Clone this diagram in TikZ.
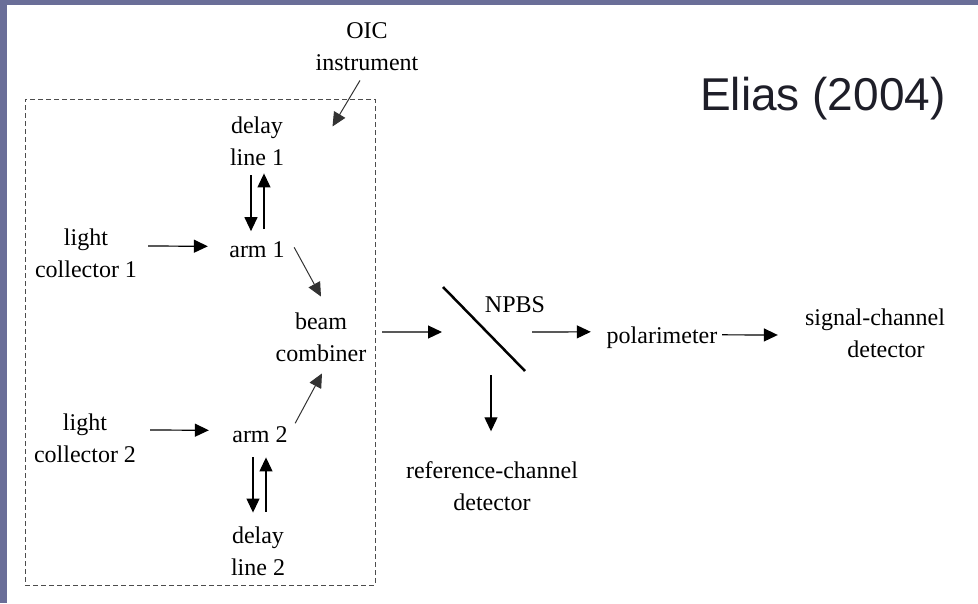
\documentclass[tikz,border=0pt]{standalone}
\usepackage{fontspec}
\setmainfont{Liberation Serif}
\newfontfamily\citefont{Liberation Sans}
\usetikzlibrary{arrows.meta}
\definecolor{framecol}{RGB}{106,110,152}
\definecolor{ink}{RGB}{30,30,40}
\begin{document}
\begin{tikzpicture}[x=1pt,y=-1pt,
  lbl/.style={font=\fontsize{24}{32}\selectfont, align=center, inner sep=0pt, anchor=base},
  arr/.style={-{Triangle[length=14pt,width=13pt]}, line width=1.2pt, black},
  diag/.style={arr, line width=1pt, black!80}]
\fill[framecol] (0,0) rectangle (978,603);
\fill[white] (7,5) rectangle (978,603);
\useasboundingbox (0,0) rectangle (978,603);

\node[draw=black!70, dash pattern=on 5pt off 3pt, line width=1pt,
      minimum width=350pt, minimum height=486pt, inner sep=0pt] (box) at (200,342) {};

\node[lbl] (oic) at (367,70) {OIC\\instrument};
\node[lbl] (delay1) at (257,165) {delay\\line 1};
\node[lbl] (lc1) at (86,277) {light\\collector 1};
\node[lbl] (arm1) at (257,257) {arm 1};
\node[lbl] (bc) at (321,361) {beam\\combiner};
\node[lbl] (lc2) at (85,462) {light\\collector 2};
\node[lbl] (arm2) at (260,442) {arm 2};
\node[lbl] (delay2) at (258,575) {delay\\line 2};
\node[lbl] (npbs) at (515,312) {NPBS};
\node[lbl] (ref) at (492,510) {reference-channel\\detector};
\node[lbl] (pol) at (662,343) {polarimeter};
\node[lbl] (sig) at (875,357) {signal-channel\\\hspace*{22pt}detector};
\node[font=\citefont\fontsize{46}{50}\selectfont, text=ink, anchor=base west, inner sep=0pt] (cite) at (700,110) {Elias (2004)};

\coordinate (m1) at (443,287);
\coordinate (m2) at (525,371);
\coordinate (bs) at (484,329);
\draw[line width=2.5pt] (m1) -- (m2);

\draw[diag] ([xshift=-7pt,yshift=-10pt]oic.south) -- ([xshift=-43pt,yshift=-28pt]box.north east);
\draw[arr] ([xshift=-6pt,yshift=-10pt]delay1.south) -- ([xshift=-6pt,yshift=9.8pt]arm1.north);
\draw[arr] ([xshift=7pt,yshift=11.8pt]arm1.north) -- ([xshift=7pt,yshift=-8pt]delay1.south);
\draw[arr] ([xshift=11pt,yshift=6.8pt]lc1.east) -- ([xshift=-21.3pt,yshift=2.9pt]arm1.west);
\draw[diag] ([xshift=9.3pt,yshift=1.9pt]arm1.east) -- ([yshift=15.6pt]bc.north);
\draw[arr] ([xshift=14pt,yshift=7.8pt]lc2.east) -- ([xshift=-23.3pt,yshift=3.9pt]arm2.west);
\draw[diag] ([xshift=7.3pt,yshift=10.9pt]arm2.east) -- ([xshift=1pt,yshift=-12pt]bc.south);
\draw[arr] ([xshift=-7pt,yshift=-15pt]arm2.south) -- ([xshift=-5pt,yshift=13.6pt]delay2.north);
\draw[arr] ([xshift=8pt,yshift=14.6pt]delay2.north) -- ([xshift=6pt,yshift=-15pt]arm2.south);
\draw[arr] ([xshift=15.7pt,yshift=4.8pt]bc.east) -- ([xshift=-42pt,yshift=-3pt]bs);
\draw[arr] ([xshift=48pt,yshift=-3pt]bs) -- ([xshift=-15.7pt,yshift=5.4pt]pol.west);
\draw[arr] ([xshift=7pt,yshift=-46pt]bs) -- ([xshift=-1pt,yshift=29.6pt]ref.north);
\draw[arr] ([xshift=4.7pt,yshift=2.4pt]pol.east) -- ([xshift=-27pt,yshift=-2.2pt]sig.west);
\end{tikzpicture}
\end{document}
